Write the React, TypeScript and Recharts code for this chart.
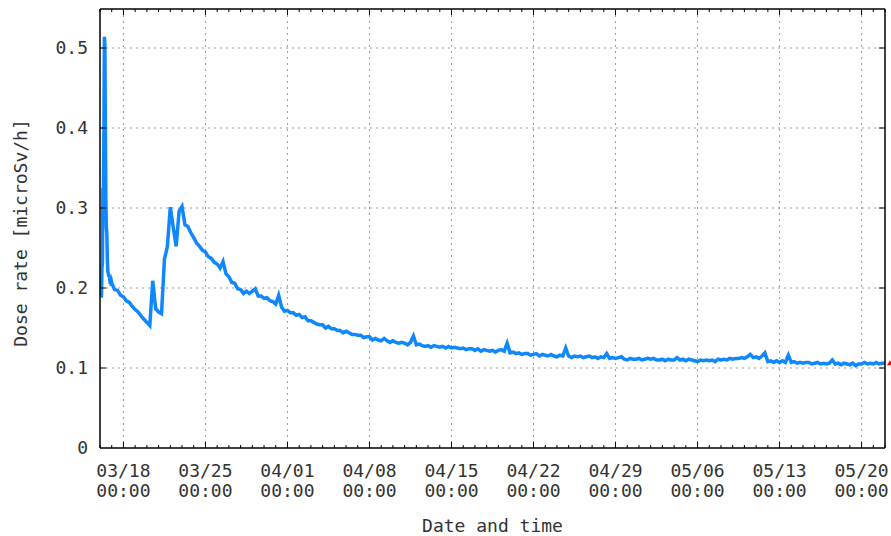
import { LineChart, Line, XAxis, YAxis, CartesianGrid, ReferenceDot, Label } from "recharts";

const YEAR = 2011;
const HOUR = 3600 * 1000;
const DAY = 24 * HOUR;

// hourly readings on the first day, from 03/16 03:00
const firstDayStart = "03/16 03:00";
const firstDayDoses = [
  0.188, 0.226, 0.231, 0.325, 0.322, 0.392, 0.514, 0.505, 0.398, 0.31, 0.276,
  0.268, 0.236, 0.221, 0.218, 0.214, 0.216, 0.211, 0.212, 0.208, 0.209,
];

// six-hourly readings, 03/17 00:00 through 05/22 00:00 (one row per day)
const sixHourStart = "03/17 00:00";
const sixHourDoses = [
  0.206, 0.198, 0.197, 0.191,
  0.189, 0.184, 0.182, 0.177,
  0.173, 0.17, 0.165, 0.161,
  0.157, 0.153, 0.209, 0.174,
  0.17, 0.168, 0.236, 0.252,
  0.301, 0.276, 0.252, 0.296,
  0.302, 0.279, 0.277, 0.269,
  0.263, 0.256, 0.252, 0.247,
  0.245, 0.239, 0.237, 0.232,
  0.23, 0.225, 0.233, 0.218,
  0.214, 0.207, 0.206, 0.199,
  0.198, 0.193, 0.196, 0.193,
  0.196, 0.199, 0.19, 0.19,
  0.187, 0.188, 0.184, 0.183,
  0.18, 0.191, 0.176, 0.171,
  0.172, 0.169, 0.169, 0.166,
  0.167, 0.163, 0.164, 0.159,
  0.159, 0.157, 0.155, 0.154,
  0.154, 0.15, 0.152, 0.149,
  0.149, 0.147, 0.147, 0.144,
  0.146, 0.144, 0.142, 0.142,
  0.141, 0.141, 0.138, 0.139,
  0.139, 0.135, 0.137, 0.135,
  0.134, 0.137, 0.134, 0.132,
  0.134, 0.132, 0.131, 0.132,
  0.131, 0.129, 0.132, 0.14,
  0.129, 0.13, 0.128, 0.127,
  0.128, 0.126, 0.128, 0.127,
  0.126, 0.127, 0.125, 0.127,
  0.125, 0.126, 0.125, 0.124,
  0.125, 0.123, 0.124, 0.124,
  0.122, 0.124, 0.121, 0.123,
  0.122, 0.121, 0.122, 0.12,
  0.122, 0.123, 0.121, 0.131,
  0.119, 0.12, 0.118, 0.119,
  0.117, 0.118, 0.118, 0.116,
  0.117, 0.118, 0.115, 0.117,
  0.116, 0.115, 0.117, 0.115,
  0.114, 0.116, 0.115, 0.125,
  0.115, 0.113, 0.115, 0.114,
  0.115, 0.113, 0.114, 0.115,
  0.113, 0.114, 0.112, 0.114,
  0.113, 0.118, 0.112, 0.113,
  0.112, 0.113, 0.114, 0.111,
  0.11, 0.112, 0.111, 0.111,
  0.112, 0.11, 0.111, 0.112,
  0.111, 0.112, 0.11, 0.11,
  0.111, 0.109, 0.111, 0.11,
  0.11, 0.113, 0.11, 0.111,
  0.109, 0.111, 0.11, 0.109,
  0.108, 0.11, 0.109, 0.11,
  0.109, 0.11, 0.108, 0.111,
  0.11, 0.111, 0.11, 0.112,
  0.111, 0.112, 0.112, 0.113,
  0.112, 0.114, 0.117, 0.113,
  0.114, 0.112, 0.115, 0.119,
  0.108, 0.109, 0.107, 0.109,
  0.107, 0.109, 0.107, 0.116,
  0.107, 0.108, 0.106, 0.107,
  0.106, 0.107, 0.107, 0.105,
  0.106, 0.107, 0.105, 0.106,
  0.105, 0.106, 0.11, 0.105,
  0.106, 0.104, 0.106, 0.105,
  0.104, 0.106, 0.103, 0.105,
  0.105, 0.107, 0.105, 0.106,
  0.105, 0.107, 0.105, 0.106,
  0.106,
];

const weekLabels = ["03/18", "03/25", "04/01", "04/08", "04/15", "04/22", "04/29", "05/06", "05/13", "05/20"];
const doseTicks = [0, 0.1, 0.2, 0.3, 0.4, 0.5];
const axisStart = "03/16 00:00";
const axisEnd = "05/22 00:00";
const doseMax = 0.54875;

const FONT = "'DejaVu Sans Mono', monospace";
const TEXT = "#333";
const LINE_COLOR = "#0f87ff";

function toTime(s: string) {
  const [md, hm = "00:00"] = s.split(" ");
  const [m, d] = md.split("/").map(Number);
  const [h, mi] = hm.split(":").map(Number);
  return Date.UTC(YEAR, m - 1, d, h, mi);
}

const t0 = toTime(axisStart);
const t1 = toTime(axisEnd);

const data = [
  ...firstDayDoses.map((v, i) => ({ t: toTime(firstDayStart) + i * HOUR, dose: v })),
  ...sixHourDoses.map((v, i) => ({ t: toTime(sixHourStart) + i * 6 * HOUR, dose: v })),
];

const dayTicks: number[] = [];
for (let t = t0; t <= t1; t += DAY) dayTicks.push(t);

const weekTicks = weekLabels.map((l) => toTime(l));
const labelAt = new Map(weekTicks.map((t, i) => [t, weekLabels[i]]));

function BottomTick({ x, y, payload }: any) {
  const label = labelAt.get(payload.value);
  return (
    <g>
      <line x1={x} x2={x} y1={y} y2={y - (label ? 6 : 3)} stroke="#000" />
      {label && (
        <text x={x} y={y} textAnchor="middle" fontSize={18} fill={TEXT} fontFamily={FONT}>
          <tspan x={x} dy={28.5}>{label}</tspan>
          <tspan x={x} dy={20.5}>00:00</tspan>
        </text>
      )}
    </g>
  );
}

function TopTick({ x, y, payload }: any) {
  const major = labelAt.has(payload.value);
  return <line x1={x} x2={x} y1={y} y2={y + (major ? 6 : 3)} stroke="#000" />;
}

function LeftTick({ x, y, payload }: any) {
  const v = payload.value as number;
  return (
    <g>
      {v > 0 && <line x1={x} x2={x + 6} y1={y} y2={y} stroke="#000" />}
      <text x={x - 12} y={y} dy="0.35em" textAnchor="end" fontSize={18} fill={TEXT} fontFamily={FONT}>
        {v === 0 ? "0" : v.toFixed(1)}
      </text>
    </g>
  );
}

function RightTick({ x, y, payload }: any) {
  if (payload.value === 0) return <g />;
  return <line x1={x} x2={x - 6} y1={y} y2={y} stroke="#000" />;
}

function LastMarker({ cx, cy }: any) {
  return <path d={`M${cx + 2} ${cy + 2} L${cx + 5} ${cy - 3} L${cx + 8} ${cy + 2} Z`} fill="#ff0000" />;
}

export default function App() {
  const last = data[data.length - 1];
  return (
    <div style={{ position: "absolute", left: 0, top: 0, background: "#fff" }}>
      <LineChart width={891} height={536} data={data} margin={{ top: 0, right: 0, bottom: 0, left: 0 }}>
        <CartesianGrid
          stroke="#9a9a9a"
          strokeDasharray="2 4"
          verticalValues={weekTicks}
          horizontalValues={[0.1, 0.2, 0.3, 0.4, 0.5]}
        />
        <XAxis
          dataKey="t"
          type="number"
          domain={[t0, t1]}
          allowDataOverflow
          ticks={dayTicks}
          interval={0}
          height={88}
          tickSize={0}
          tickMargin={0}
          tickLine={false}
          axisLine={{ stroke: "#000", strokeWidth: 1.5 }}
          tick={<BottomTick />}
        >
          <Label
            content={() => (
              <text x={492.5} y={532} textAnchor="middle" fontSize={18} fill={TEXT} fontFamily={FONT}>
                Date and time
              </text>
            )}
          />
        </XAxis>
        <XAxis
          xAxisId="top"
          orientation="top"
          dataKey="t"
          type="number"
          domain={[t0, t1]}
          allowDataOverflow
          ticks={dayTicks}
          interval={0}
          height={9}
          tickSize={0}
          tickMargin={0}
          tickLine={false}
          axisLine={{ stroke: "#000", strokeWidth: 1.5 }}
          tick={<TopTick />}
        />
        <YAxis
          type="number"
          domain={[0, doseMax]}
          allowDataOverflow
          ticks={doseTicks}
          interval={0}
          width={100}
          tickSize={0}
          tickMargin={0}
          tickLine={false}
          axisLine={{ stroke: "#000", strokeWidth: 1.5 }}
          tick={<LeftTick />}
        >
          <Label
            content={() => (
              <text
                x={27}
                y={233}
                transform="rotate(-90 27 233)"
                textAnchor="middle"
                fontSize={18}
                fill={TEXT}
                fontFamily={FONT}
              >
                Dose rate [microSv/h]
              </text>
            )}
          />
        </YAxis>
        <YAxis
          yAxisId="right"
          orientation="right"
          type="number"
          domain={[0, doseMax]}
          allowDataOverflow
          ticks={doseTicks}
          interval={0}
          width={6}
          tickSize={0}
          tickMargin={0}
          tickLine={false}
          axisLine={{ stroke: "#000", strokeWidth: 1.5 }}
          tick={<RightTick />}
        />
        <Line
          dataKey="dose"
          type="linear"
          stroke={LINE_COLOR}
          strokeWidth={3.5}
          dot={false}
          isAnimationActive={false}
        />
        <ReferenceDot x={last.t} y={last.dose} ifOverflow="visible" shape={<LastMarker />} />
      </LineChart>
    </div>
  );
}
